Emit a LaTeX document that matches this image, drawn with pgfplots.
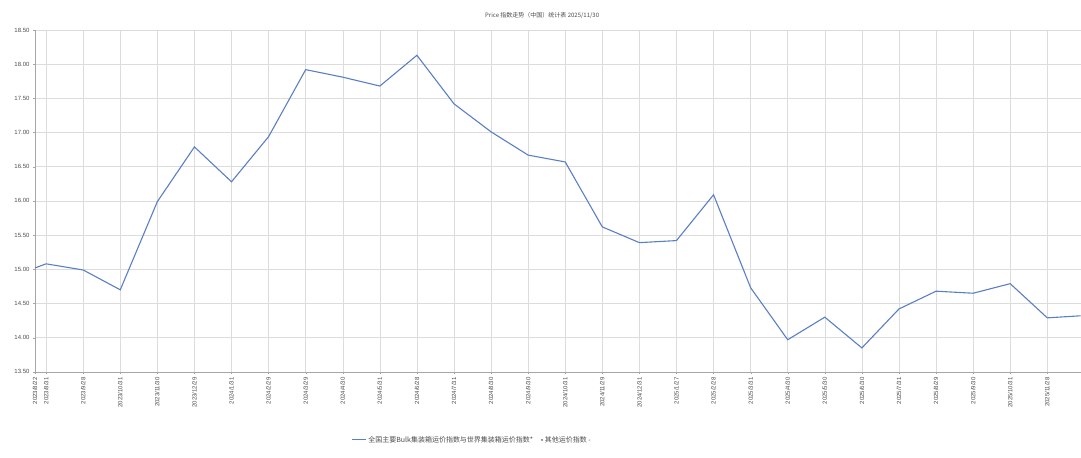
\documentclass[border=0pt]{standalone}
\usepackage{fontspec}
\setmainfont{Liberation Sans}
\newfontfamily\cjk{Noto Sans CJK SC}
\usepackage{pgfplots}
\pgfplotsset{compat=1.18}
\definecolor{lineblue}{HTML}{5B7FC4}
\definecolor{gridgray}{HTML}{DCDCDC}
\begin{document}
\begin{tikzpicture}
  \begin{axis}[
    name=ax,
    scale only axis,
    width=1046pt, height=342pt,
    xmin=-0.3, xmax=27.9,
    ymin=13.5, ymax=18.5,
    ytick={13.5,14,...,18.5},
    yticklabel style={/pgf/number format/fixed, /pgf/number format/fixed zerofill, /pgf/number format/precision=2},
    /pgf/number format/assume math mode=true,
    xtick={-0.3,0,1,2,3,4,5,6,7,8,9,10,11,12,13,14,15,16,17,18,19,20,21,22,23,24,25,26,27},
    xticklabels={2023/8/22,2023/8/31,2023/9/28,2023/10/31,2023/11/30,2023/12/29,2024/1/31,2024/2/29,2024/3/29,2024/4/30,2024/5/31,2024/6/28,2024/7/31,2024/8/30,2024/9/30,2024/10/31,2024/11/29,2024/12/31,2025/1/27,2025/2/28,2025/3/31,2025/4/30,2025/5/30,2025/6/30,2025/7/31,2025/8/29,2025/9/30,2025/10/31,2025/11/28},
    x tick label style={rotate=90, anchor=east, font=\fontsize{6}{7}\selectfont, text=black!70},
    y tick label style={font=\fontsize{6}{7}\selectfont, text=black!70},
    xmajorgrids, ymajorgrids,
    grid style={gridgray, line width=0.5pt},
    axis x line*=bottom, axis y line*=left,
    axis line style={black!35, line width=0.7pt},
    major tick length=2pt,
    tick style={black!35},
    tick align=outside,
    title={\cjk Price 指数走势（中国）统计表 2025/11/30},
    title style={font=\fontsize{6}{7}\selectfont, text=black!70, at={(rel axis cs:0.485,1.018)}, anchor=base},
    legend style={at={(rel axis cs:0.418,-0.199)}, anchor=center, draw=none, font=\fontsize{7}{8}\selectfont\cjk, text=black!70, legend columns=2, /tikz/every even column/.append style={column sep=6pt}},
    legend cell align=left,
  ]
    \addplot[lineblue, line width=1.1pt, mark=none,
      legend image code/.code={\draw[lineblue, line width=1pt] (0pt,0pt) -- (14pt,0pt);}] coordinates {
      (-0.3,15.02) (0,15.08) (1,14.99) (2,14.70) (3,15.99) (4,16.79) (5,16.28) (6,16.94)
      (7,17.92) (8,17.81) (9,17.68) (10,18.13) (11,17.42) (12,17.01) (13,16.67) (14,16.57)
      (15,15.62) (16,15.39) (17,15.42) (18,16.09) (19,14.73) (20,13.97) (21,14.30) (22,13.85)
      (23,14.42) (24,14.68) (25,14.65) (26,14.79) (27,14.29) (27.9,14.32)
    };
    \addlegendentry{全国主要Bulk集装箱运价指数与世界集装箱运价指数*}
    \addlegendimage{only marks, mark=*, mark size=0.8pt, black!50}
    \addlegendentry{其他运价指数 -}
  \end{axis}
  % page margins as in the reference
  \path (ax.south west) ++(-35pt,-86pt);
  \path (ax.north east) ++(0pt,30pt);
\end{tikzpicture}
\end{document}
